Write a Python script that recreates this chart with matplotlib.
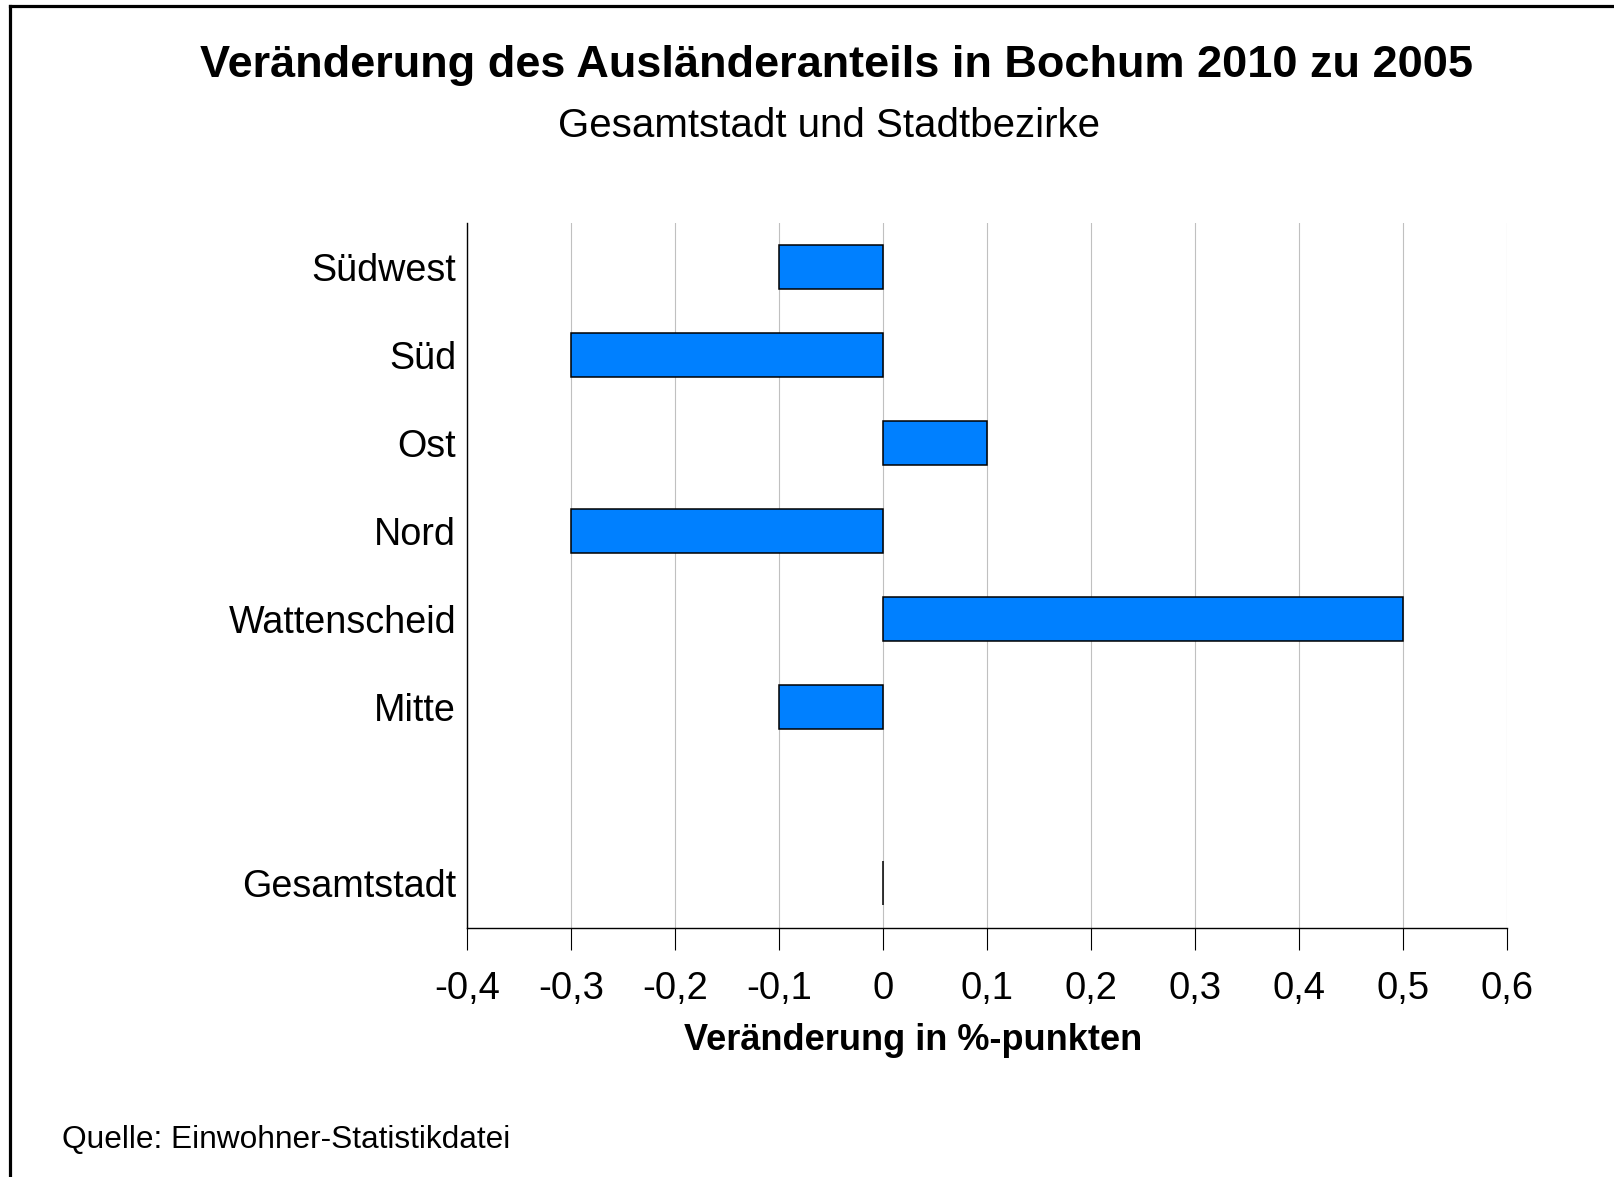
import matplotlib
matplotlib.use("Agg")
import matplotlib.pyplot as plt
from matplotlib.lines import Line2D

plt.rcParams['font.family'] = ['Liberation Sans', 'DejaVu Sans']

categories = ["Gesamtstadt", "", "Mitte", "Wattenscheid", "Nord", "Ost", "Süd", "Südwest"]
values = [0.0, None, -0.1, 0.5, -0.3, 0.1, -0.3, -0.1]
xticks = [-0.4, -0.3, -0.2, -0.1, 0.0, 0.1, 0.2, 0.3, 0.4, 0.5, 0.6]
xtick_labels = ["-0,4", "-0,3", "-0,2", "-0,1", "0", "0,1", "0,2", "0,3", "0,4", "0,5", "0,6"]

W, H = 1614, 1177
fig = plt.figure(figsize=(W / 100, H / 100), dpi=100)
x0, x1 = 467.3, 1507.0
ax = fig.add_axes([x0 / W, 1 - 928 / H, (x1 - x0) / W, (928 - 223) / H])

pos = [i for i, v in enumerate(values) if v is not None]
vals = [v for v in values if v is not None]
ax.barh(pos, vals, height=0.5, color="#0080FF", edgecolor="black", linewidth=1.1, zorder=3)

ax.set_xlim(-0.4, 0.6)
ax.set_ylim(-0.51, 7.50)
ax.set_xticks(xticks)
ax.set_xticklabels(xtick_labels, fontsize=27.5)
ax.set_yticks(range(len(categories)))
ax.set_yticklabels(categories, fontsize=27.2)
ax.tick_params(axis='y', length=0, pad=8)
ax.tick_params(axis='x', direction='out', length=15.5, width=0.8, pad=15.5)
ax.grid(axis='x', color="#c0c0c0", linewidth=0.8, zorder=0)
ax.set_axisbelow(True)
for s in ['top', 'right']:
    ax.spines[s].set_visible(False)
for s in ['left', 'bottom']:
    ax.spines[s].set_linewidth(1.0)
ax.set_xlabel("Veränderung in %-punkten", fontsize=26, fontweight='bold', labelpad=12)
ax.xaxis.set_label_coords((913 - x0) / (x1 - x0), -(1041 - 928) / (928 - 223))
ax.xaxis.label.set_va('center')

fig.text(836 / W, 1 - 66 / H, "Veränderung des Ausländeranteils in Bochum 2010 zu 2005",
         ha='center', va='center', fontsize=32.5, fontweight='bold')
fig.text(829 / W, 1 - 126 / H, "Gesamtstadt und Stadtbezirke",
         ha='center', va='center', fontsize=29)
fig.text(62 / W, 1 - 1140 / H, "Quelle: Einwohner-Statistikdatei",
         ha='left', va='center', fontsize=22.8)

fig.add_artist(Line2D([10 / W, 10 / W], [0, 1 - 6 / H], color='black', linewidth=2.3,
                      transform=fig.transFigure))
fig.add_artist(Line2D([10 / W, 1], [1 - 6 / H, 1 - 6 / H], color='black', linewidth=2.3,
                      transform=fig.transFigure))

fig.savefig("out.png", dpi=100)
